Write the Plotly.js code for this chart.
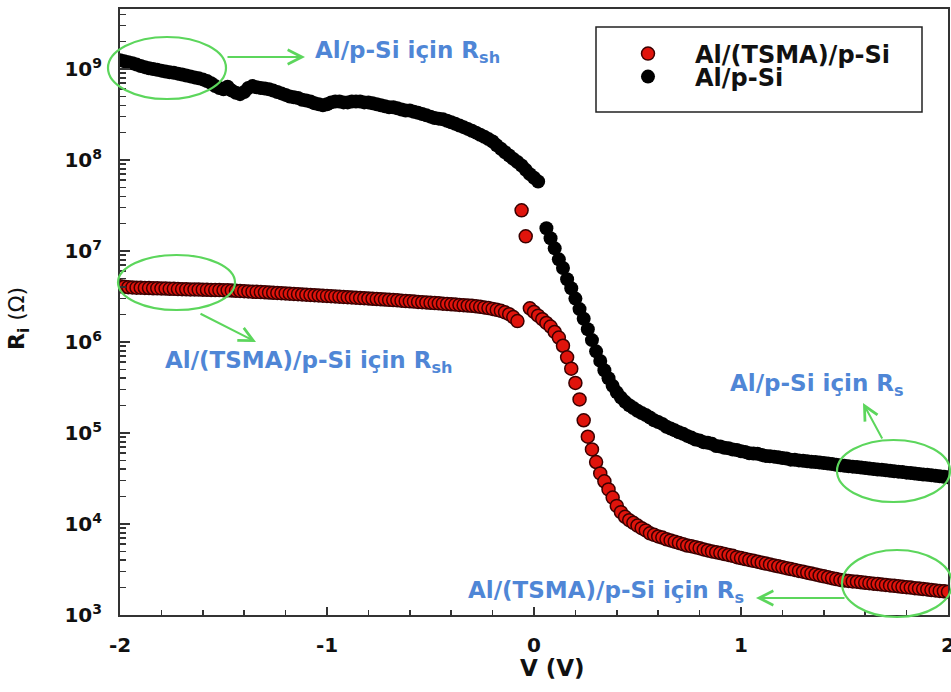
<!DOCTYPE html>
<html>
<head>
<meta charset="utf-8">
<script src="https://cdn.plot.ly/plotly-3.0.1.min.js"></script>
<style>
  html, body { margin: 0; padding: 0; background: #ffffff; }
  #chart { width: 951px; height: 692px; }
</style>
</head>
<body>
<div id="chart"></div>
<script>
// ---------------- DATA ----------------
// Applied bias voltage (V), sweep -2 V .. +2 V
const voltage = [
  -2,-1.98,-1.96,-1.94,-1.92,-1.9,-1.88,-1.86,-1.84,-1.82,
  -1.8,-1.78,-1.76,-1.74,-1.72,-1.7,-1.68,-1.66,-1.64,-1.62,
  -1.6,-1.58,-1.56,-1.54,-1.52,-1.5,-1.48,-1.46,-1.44,-1.42,
  -1.4,-1.38,-1.36,-1.34,-1.32,-1.3,-1.28,-1.26,-1.24,-1.22,
  -1.2,-1.18,-1.16,-1.14,-1.12,-1.1,-1.08,-1.06,-1.04,-1.02,
  -1,-0.98,-0.96,-0.94,-0.92,-0.9,-0.88,-0.86,-0.84,-0.82,
  -0.8,-0.78,-0.76,-0.74,-0.72,-0.7,-0.68,-0.66,-0.64,-0.62,
  -0.6,-0.58,-0.56,-0.54,-0.52,-0.5,-0.48,-0.46,-0.44,-0.42,
  -0.4,-0.38,-0.36,-0.34,-0.32,-0.3,-0.28,-0.26,-0.24,-0.22,
  -0.2,-0.18,-0.16,-0.14,-0.12,-0.1,-0.08,-0.06,-0.04,-0.02,
  0,0.02,0.04,0.06,0.08,0.1,0.12,0.14,0.16,0.18,
  0.2,0.22,0.24,0.26,0.28,0.3,0.32,0.34,0.36,0.38,
  0.4,0.42,0.44,0.46,0.48,0.5,0.52,0.54,0.56,0.58,
  0.6,0.62,0.64,0.66,0.68,0.7,0.72,0.74,0.76,0.78,
  0.8,0.82,0.84,0.86,0.88,0.9,0.92,0.94,0.96,0.98,
  1,1.02,1.04,1.06,1.08,1.1,1.12,1.14,1.16,1.18,
  1.2,1.22,1.24,1.26,1.28,1.3,1.32,1.34,1.36,1.38,
  1.4,1.42,1.44,1.46,1.48,1.5,1.52,1.54,1.56,1.58,
  1.6,1.62,1.64,1.66,1.68,1.7,1.72,1.74,1.76,1.78,
  1.8,1.82,1.84,1.86,1.88,1.9,1.92,1.94,1.96,1.98,
  2
];

// Ri (Ohm) for Al/(TSMA)/p-Si
const riTSMA = [
  4.1e6,4.05e6,4.0e6,3.98e6,3.96e6,3.95e6,3.93e6,3.92e6,3.9e6,3.89e6,
  3.88e6,3.87e6,3.85e6,3.84e6,3.82e6,3.81e6,3.8e6,3.79e6,3.78e6,3.77e6,
  3.76e6,3.75e6,3.74e6,3.73e6,3.72e6,3.71e6,3.7e6,3.68e6,3.66e6,3.64e6,
  3.62e6,3.6e6,3.58e6,3.56e6,3.54e6,3.52e6,3.5e6,3.48e6,3.46e6,3.44e6,
  3.42e6,3.4e6,3.38e6,3.36e6,3.33e6,3.31e6,3.29e6,3.27e6,3.25e6,3.23e6,
  3.21e6,3.19e6,3.17e6,3.15e6,3.13e6,3.11e6,3.09e6,3.07e6,3.05e6,3.03e6,
  3.01e6,2.99e6,2.97e6,2.95e6,2.93e6,2.91e6,2.89e6,2.87e6,2.85e6,2.82e6,
  2.8e6,2.78e6,2.76e6,2.74e6,2.72e6,2.7e6,2.68e6,2.66e6,2.64e6,2.62e6,
  2.6e6,2.58e6,2.56e6,2.54e6,2.52e6,2.5e6,2.47e6,2.44e6,2.4e6,2.36e6,
  2.31e6,2.26e6,2.2e6,2.12e6,2.02e6,1.88e6,1.7e6,2.8e7,1.45e7,2.35e6,
  2.14e6,1.95e6,1.78e6,1.62e6,1.48e6,1.29e6,1.12e6,9.1e5,6.8e5,5.1e5,
  3.55e5,2.34e5,1.38e5,9.1e4,6.6e4,4.8e4,3.6e4,2.95e4,2.4e4,1.95e4,
  1.58e4,1.35e4,1.2e4,1.1e4,1.03e4,9.6e3,9.0e3,8.5e3,7.9e3,7.6e3,
  7.3e3,7.1e3,6.8e3,6.6e3,6.4e3,6.2e3,6.0e3,5.8e3,5.7e3,5.56e3,
  5.43e3,5.25e3,5.13e3,5.0e3,4.9e3,4.8e3,4.68e3,4.57e3,4.47e3,4.32e3,
  4.22e3,4.12e3,4.03e3,3.94e3,3.85e3,3.76e3,3.67e3,3.59e3,3.51e3,3.43e3,
  3.35e3,3.27e3,3.2e3,3.13e3,3.05e3,2.99e3,2.92e3,2.85e3,2.79e3,2.72e3,
  2.66e3,2.6e3,2.54e3,2.48e3,2.43e3,2.4e3,2.37e3,2.34e3,2.32e3,2.29e3,
  2.26e3,2.24e3,2.21e3,2.19e3,2.16e3,2.14e3,2.11e3,2.09e3,2.07e3,2.04e3,
  2.02e3,2.0e3,1.97e3,1.95e3,1.93e3,1.91e3,1.88e3,1.86e3,1.84e3,1.82e3,
  1.8e3
];

// Ri (Ohm) for Al/p-Si (null = no measured point shown)
const riRef = [
  1.25e9,1.22e9,1.19e9,1.16e9,1.12e9,1.08e9,1.05e9,1.02e9,1.0e9,9.8e8,
  9.6e8,9.4e8,9.2e8,9.1e8,8.9e8,8.7e8,8.5e8,8.3e8,8.1e8,7.9e8,
  7.7e8,7.4e8,7.0e8,6.5e8,6.2e8,6.0e8,6.4e8,5.8e8,5.5e8,5.3e8,
  5.6e8,6.2e8,6.5e8,6.3e8,6.2e8,6.1e8,6.0e8,5.8e8,5.6e8,5.4e8,
  5.2e8,5.0e8,4.9e8,4.8e8,4.6e8,4.5e8,4.4e8,4.2e8,4.1e8,4.0e8,
  4.1e8,4.3e8,4.4e8,4.4e8,4.3e8,4.3e8,4.4e8,4.4e8,4.4e8,4.3e8,
  4.3e8,4.2e8,4.1e8,4.0e8,3.9e8,3.8e8,3.8e8,3.7e8,3.6e8,3.5e8,
  3.5e8,3.4e8,3.3e8,3.2e8,3.1e8,3.0e8,2.9e8,2.85e8,2.8e8,2.7e8,
  2.6e8,2.5e8,2.4e8,2.3e8,2.2e8,2.1e8,2.0e8,1.9e8,1.8e8,1.7e8,
  1.6e8,1.45e8,1.33e8,1.22e8,1.12e8,1.03e8,9.5e7,8.7e7,7.8e7,7.0e7,
  6.4e7,5.8e7,null,1.78e7,1.38e7,1.07e7,8.1e6,6.5e6,4.9e6,3.9e6,
  3.0e6,2.3e6,1.8e6,1.38e6,1.05e6,7.9e5,6.2e5,4.9e5,4.0e5,3.3e5,
  2.8e5,2.45e5,2.2e5,2.02e5,1.88e5,1.76e5,1.66e5,1.58e5,1.48e5,1.38e5,
  1.32e5,1.26e5,1.17e5,1.12e5,1.07e5,1.02e5,9.8e4,9.3e4,8.9e4,8.5e4,
  8.3e4,7.9e4,7.8e4,7.6e4,7.2e4,7.1e4,6.9e4,6.8e4,6.6e4,6.5e4,
  6.3e4,6.2e4,6.0e4,5.96e4,5.9e4,5.75e4,5.6e4,5.55e4,5.5e4,5.4e4,
  5.3e4,5.25e4,5.1e4,5.07e4,5.0e4,4.95e4,4.9e4,4.84e4,4.8e4,4.73e4,
  4.68e4,4.62e4,4.57e4,4.47e4,4.42e4,4.37e4,4.32e4,4.27e4,4.22e4,4.17e4,
  4.12e4,4.07e4,4.03e4,3.98e4,3.94e4,3.89e4,3.85e4,3.8e4,3.76e4,3.72e4,
  3.67e4,3.63e4,3.59e4,3.55e4,3.5e4,3.47e4,3.43e4,3.39e4,3.35e4,3.31e4,
  3.27e4
];

const seriesNames = ['Al/(TSMA)/p-Si', 'Al/p-Si'];

const xTickVals = [-2, -1, 0, 1, 2];
const xTickText = ['-2', '-1', '0', '1', '2'];
const xMinorVals = [-1.8,-1.6,-1.4,-1.2,-0.8,-0.6,-0.4,-0.2,0.2,0.4,0.6,0.8,1.2,1.4,1.6,1.8];
const yTickVals = [1e3, 1e4, 1e5, 1e6, 1e7, 1e8, 1e9];
const yTickText = ['10<sup>3</sup>','10<sup>4</sup>','10<sup>5</sup>','10<sup>6</sup>','10<sup>7</sup>','10<sup>8</sup>','10<sup>9</sup>'];

const noteTexts = [
  'Al/p-Si için R<sub>sh</sub>',
  'Al/(TSMA)/p-Si için R<sub>sh</sub>',
  'Al/p-Si için R<sub>s</sub>',
  'Al/(TSMA)/p-Si için R<sub>s</sub>'
];

// ---------------- CHART ----------------
const yMinorVals = [];
for (let e = 3; e <= 9; e++) {
  for (let m = 2; m <= 9; m++) {
    const v = m * Math.pow(10, e);
    if (Math.log10(v) < 9.66) yMinorVals.push(v);
  }
}

const FONT = 'DejaVu Sans, Verdana, sans-serif';
const AXC = '#333333';
const GREEN = '#5cd65c';
const BLUE = '#4f86d6';

const traces = [
  {
    x: voltage, y: riTSMA, name: seriesNames[0], type: 'scatter', mode: 'markers',
    legend: 'legend',
    marker: { size: 13, color: '#e0140c', line: { color: '#3a0000', width: 1.5 } }
  },
  {
    x: voltage, y: riRef, name: seriesNames[1], type: 'scatter', mode: 'markers',
    legend: 'legend2',
    marker: { size: 14, color: '#000000', line: { color: '#000000', width: 0 } }
  }
];

const legendCommon = {
  xanchor: 'left', yanchor: 'middle',
  bgcolor: 'rgba(0,0,0,0)', borderwidth: 0,
  font: { family: FONT, size: 24, color: '#111', weight: 'bold' },
  itemsizing: 'trace', itemwidth: 84
};

function px2x(p) { return (p - 120) / 828; }
function py2y(p) { return (615 - p) / 606; }

const ellipse = (x0, x1, y0, y1) => ({
  type: 'circle', xref: 'paper', yref: 'paper',
  x0: px2x(x0), x1: px2x(x1), y0: py2y(y1), y1: py2y(y0),
  line: { color: GREEN, width: 2.2 }, fillcolor: 'rgba(0,0,0,0)'
});

const arrow = (tailX, tailY, tipX, tipY) => ({
  xref: 'paper', yref: 'paper', x: px2x(tipX), y: py2y(tipY),
  ax: tailX - tipX, ay: tailY - tipY, text: '', showarrow: true,
  arrowhead: 5, arrowsize: 1.4, arrowwidth: 2, arrowcolor: GREEN, standoff: 0, startstandoff: 0
});

const note = (txt, left, cy) => ({
  xref: 'paper', yref: 'paper', x: px2x(left), y: py2y(cy),
  xanchor: 'left', yanchor: 'middle', showarrow: false, text: txt,
  font: { family: FONT, size: 23, color: BLUE, weight: 'bold' }
});

const layout = {
  width: 951, height: 692,
  margin: { l: 120, r: 3, t: 9, b: 77, pad: 0 },
  paper_bgcolor: '#ffffff', plot_bgcolor: '#ffffff',
  showlegend: true,
  legend: Object.assign({ x: px2x(601), y: py2y(54) }, legendCommon),
  legend2: Object.assign({ x: px2x(601), y: py2y(77) }, legendCommon),
  xaxis: {
    range: [-2, 2], tickmode: 'array', tickvals: xTickVals, ticktext: xTickText,
    ticks: 'inside', ticklen: 8, tickwidth: 1.5, tickcolor: AXC,
    minor: { tickmode: 'array', tickvals: xMinorVals, ticks: 'inside', ticklen: 5, tickwidth: 1.5, tickcolor: AXC, showgrid: false },
    showline: true, linecolor: AXC, linewidth: 2, mirror: true,
    showgrid: false, zeroline: false,
    tickfont: { family: FONT, size: 20, color: '#111', weight: 'bold' },
    ticklabelstandoff: 11, ticklabeloverflow: 'allow'
  },
  yaxis: {
    type: 'log', range: [3, 9.66], tickmode: 'array', tickvals: yTickVals, ticktext: yTickText,
    ticks: 'inside', ticklen: 10, tickwidth: 1.5, tickcolor: AXC,
    minor: { tickmode: 'array', tickvals: yMinorVals, ticks: 'inside', ticklen: 6, tickwidth: 1.5, tickcolor: AXC, showgrid: false },
    showline: true, linecolor: AXC, linewidth: 2, mirror: true,
    showgrid: false, zeroline: false,
    tickfont: { family: FONT, size: 20, color: '#111', weight: 'bold' },
    ticklabelstandoff: 12
  },
  shapes: [
    { type: 'rect', xref: 'paper', yref: 'paper', x0: px2x(596), x1: px2x(922), y0: py2y(112), y1: py2y(27),
      line: { color: '#222', width: 1.5 }, fillcolor: 'rgba(0,0,0,0)' },
    ellipse(108, 226, 37, 99),
    ellipse(118, 235, 255, 310),
    ellipse(837, 950, 440, 502),
    ellipse(842, 952, 550, 617)
  ],
  annotations: [
    note(noteTexts[0], 313, 52),
    note(noteTexts[1], 163, 362),
    note(noteTexts[2], 728, 385),
    note(noteTexts[3], 466, 592),
    arrow(226, 57, 305, 57),
    arrow(199, 313, 256, 342),
    arrow(883, 440, 863, 403),
    arrow(846, 598, 756, 598),
    { xref: 'paper', yref: 'paper', x: px2x(552), y: py2y(668), xanchor: 'center', yanchor: 'middle',
      showarrow: false, text: 'V (V)', font: { family: FONT, size: 23, color: '#111', weight: 'bold' } },
    { xref: 'paper', yref: 'paper', x: px2x(18), y: py2y(319), xanchor: 'center', yanchor: 'middle',
      showarrow: false, textangle: -90, text: '<b>R<sub>i</sub></b> (Ω)', font: { family: FONT, size: 22, color: '#111' } }
  ]
};

Plotly.newPlot('chart', traces, layout, { displayModeBar: false, staticPlot: true });
</script>
</body>
</html>
